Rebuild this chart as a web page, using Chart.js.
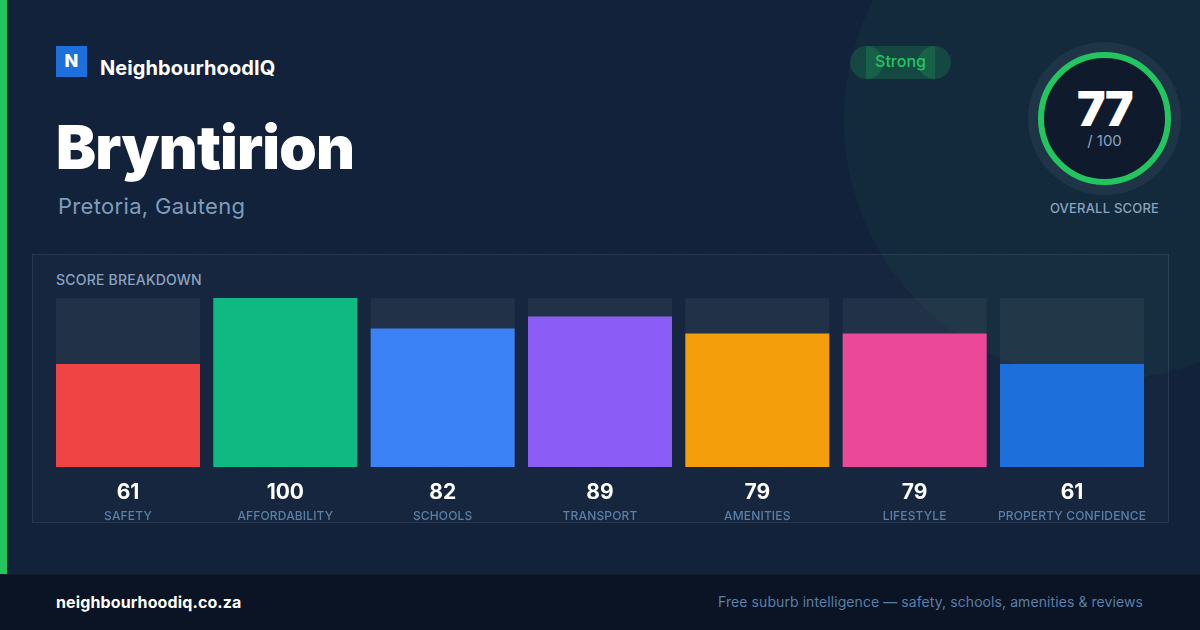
<!DOCTYPE html>
<html>
<head>
<meta charset="utf-8">
<script src="https://cdn.jsdelivr.net/npm/chart.js@4/dist/chart.umd.min.js"></script>
<style>
    html, body { margin: 0; padding: 0; }
    body { width: 1200px; height: 630px; overflow: hidden; position: relative; background: #12223b; font-family: Inter, sans-serif; }
    .abs { position: absolute; white-space: nowrap; }
    #dots { left: 0; top: 0; width: 1200px; height: 630px; background-image: radial-gradient(circle at 24px 24px, rgba(255,255,255,0.035) 1.2px, transparent 1.6px); background-size: 32px 32px; }
    #glow { left: 844px; top: -140px; width: 520px; height: 520px; border-radius: 50%; background: rgba(34,197,94,0.05); }
    #accent { left: 0; top: 0; width: 7px; height: 630px; background: #22c55e; }
    #logo { left: 56px; top: 46px; width: 31px; height: 31px; background: #1d6fdc; color: #fff; font-weight: 800; font-size: 18px; line-height: 30px; text-align: center; }
    #brand { left: 100px; top: 55px; font-size: 20px; font-weight: 700; line-height: 26px; color: #fff; letter-spacing: 0.07px; }
    #title { left: 56px; top: 108px; font-size: 60px; font-weight: 900; line-height: 78px; color: #fff; letter-spacing: -0.8px; }
    #suburb { left: 58px; top: 192px; font-size: 22px; line-height: 28px; color: #7f9cbc; letter-spacing: 0.32px; }
    .pill { background: rgba(34,197,94,0.2); height: 33px; top: 46px; }
    .pill.end { width: 33px; border-radius: 50%; }
    #strong { left: 866px; width: 69px; top: 46px; height: 33px; line-height: 31px; text-align: center; font-size: 16px; font-weight: 500; color: #22c55e; }
    #ring { left: 1038px; top: 52px; width: 121px; height: 121px; border: 6px solid #22c55e; border-radius: 50%; background: #0f1b2d; box-shadow: 0 0 0 10px rgba(255,255,255,0.05); }
    #overall { left: 1038px; width: 133px; top: 86px; text-align: center; font-size: 48px; font-weight: 900; line-height: 46px; color: #fff; letter-spacing: -1.5px; }
    #outof { left: 1038px; width: 133px; top: 131px; text-align: center; font-size: 15px; line-height: 20px; color: #8ba3bf; }
    #overallLabel { left: 1004px; width: 201px; top: 199px; text-align: center; font-size: 13px; font-weight: 500; line-height: 18px; color: #8ba3bf; letter-spacing: 0.2px; }
    #panel { left: 32px; top: 254px; width: 1135px; height: 267px; background: rgba(255,255,255,0.02); border: 1px solid rgba(255,255,255,0.08); }
    #panelTitle { left: 56px; top: 271px; font-size: 14px; line-height: 18px; font-weight: 500; color: #8ba3bf; letter-spacing: 0.2px; }
    #footer { left: 0; top: 574px; width: 1200px; height: 56px; background: #0a1424; border-top: 1px solid rgba(255,255,255,0.04); box-sizing: border-box; }
    #site { left: 56px; top: 592px; font-size: 16px; line-height: 20px; font-weight: 700; color: #fff; letter-spacing: 0.12px; }
    #tagline { right: 57px; top: 593px; font-size: 14px; line-height: 18px; color: #5a7fa8; letter-spacing: 0.08px; }
    #chart { position: absolute; left: 0; top: 0; }
</style>
</head>
<body>
<div class="abs" id="glow"></div>
<div class="abs" id="dots"></div>
<div class="abs" id="accent"></div>
<div class="abs" id="logo">N</div>
<div class="abs" id="brand">NeighbourhoodIQ</div>
<div class="abs" id="title">Bryntirion</div>
<div class="abs" id="suburb">Pretoria, Gauteng</div>
<div class="abs pill end" style="left:850px"></div>
<div class="abs pill" style="left:866px;width:69px"></div>
<div class="abs pill end" style="left:918px"></div>
<div class="abs" id="strong">Strong</div>
<div class="abs" id="ring"></div>
<div class="abs" id="overall">77</div>
<div class="abs" id="outof">/ 100</div>
<div class="abs" id="overallLabel">OVERALL SCORE</div>
<div class="abs" id="panel"></div>
<div class="abs" id="panelTitle">SCORE BREAKDOWN</div>
<div class="abs" id="footer"></div>
<div class="abs" id="site">neighbourhoodiq.co.za</div>
<div class="abs" id="tagline">Free suburb intelligence — safety, schools, amenities &amp; reviews</div>
<canvas id="chart" width="1200" height="630"></canvas>
<script>
const categories = ['SAFETY', 'AFFORDABILITY', 'SCHOOLS', 'TRANSPORT', 'AMENITIES', 'LIFESTYLE', 'PROPERTY CONFIDENCE'];
const scores = [61, 100, 82, 89, 79, 79, 61];
const trackValues = [100, 100, 100, 100, 100, 100, 100];
const barColors = ['#ef4444', '#10b981', '#3b82f6', '#8b5cf6', '#f59e0b', '#ec4899', '#1d6fdc'];

// score numbers sit between the bars and the axis labels
const scoreLabels = {
    id: 'scoreLabels',
    beforeDraw(chart) {
        chart.ctx.letterSpacing = '0.15px';
    },
    afterDraw(chart) {
        const { ctx, scales } = chart;
        ctx.save();
        ctx.letterSpacing = '0px';
        ctx.font = '700 21px Inter';
        ctx.fillStyle = '#ffffff';
        ctx.textAlign = 'center';
        ctx.textBaseline = 'middle';
        scores.forEach((s, i) => ctx.fillText(String(s), scales.x.getPixelForValue(i), 493));
        ctx.restore();
    }
};

new Chart(document.getElementById('chart'), {
    type: 'bar',
    data: {
        labels: categories,
        datasets: [
            { data: scores, backgroundColor: barColors, order: 1, grouped: false, barPercentage: 0.9153, categoryPercentage: 1 },
            { data: trackValues, backgroundColor: 'rgba(255,255,255,0.05)', order: 2, grouped: false, barPercentage: 0.9153, categoryPercentage: 1 }
        ]
    },
    options: {
        responsive: false,
        animation: false,
        devicePixelRatio: 1,
        layout: { padding: { left: 49.33, right: 49.33, top: 298, bottom: 83 } },
        plugins: { legend: { display: false }, tooltip: { enabled: false } },
        scales: {
            y: { display: false, min: 0, max: 100 },
            x: {
                afterFit(scale) { scale.height = 80; },
                grid: { display: false },
                border: { display: false },
                ticks: {
                    color: '#5b7fa6',
                    font: { family: 'Inter', size: 12, weight: '500' },
                    padding: 34,
                    maxRotation: 0,
                    autoSkip: false
                }
            }
        }
    },
    plugins: [scoreLabels]
});
</script>
</body>
</html>
